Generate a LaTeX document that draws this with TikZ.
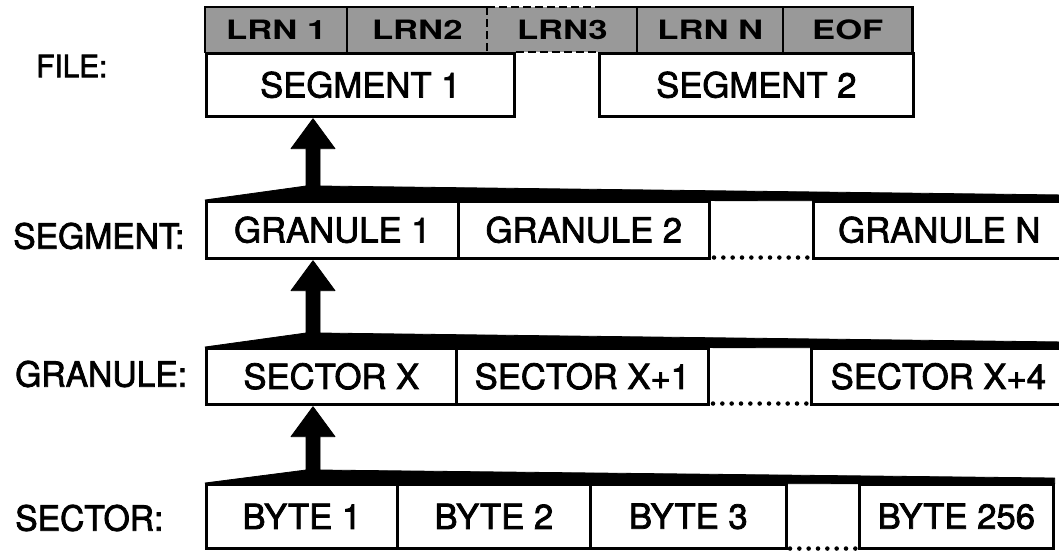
\documentclass[tikz,border=0pt]{standalone}
\usepackage{fontspec}
\setmainfont{TeX Gyre Heros}
\newfontfamily\lblfont[FakeStretch=0.97,FakeBold=2.2]{TeX Gyre Heros}
\newfontfamily\boxfont[FakeBold=2.2]{TeX Gyre Heros}
\newfontfamily\lrnfont[FakeStretch=1.3]{TeX Gyre Heros}
\usetikzlibrary{calc}
\begin{document}
\begin{tikzpicture}[x=0.75pt,y=-0.75pt]
\useasboundingbox (0,0) rectangle (1059,551);
\clip (0,0) rectangle (1059,551);
\tikzset{
  sz/.style args={#1 by #2}{minimum width=#1*0.75pt, minimum height=#2*0.75pt},
  cellbox/.style={draw, line width=2pt, inner sep=0pt, anchor=north west,
    font=\boxfont\fontsize{26}{26}\selectfont},
  gapbox/.style={inner sep=0pt, anchor=north west},
  lrncell/.style={fill=black!40, inner sep=0pt, anchor=north west,
    font=\lrnfont\bfseries\fontsize{20}{20}\selectfont},
  lbl/.style={anchor=west, inner sep=0pt, font=\lblfont\fontsize{26}{26}\selectfont},
  fan/.style={fill=black, draw=black, line width=0.6pt, line join=round},
  dotline/.style={line width=3.4pt, line cap=round, dash pattern=on 0pt off 7pt},
  edge/.style={line width=2pt},
  dashedge/.style={line width=2pt, dash pattern=on 6pt off 3pt},
}
% ---------- labels
\node[lbl] (Lfile) at (36,66) {\fontsize{23}{23}\selectfont FILE:};
\node[lbl] (Lseg) at (13,236) {SEGMENT:};
\node[lbl] (Lgran) at (15,374) {GRANULE:};
\node[lbl] (Lsec) at (15,518) {SECTOR:};

% ---------- FILE row
\node[lrncell, sz=142 by 45] (l1) at (205,7) {LRN 1};
\node[lrncell, sz=140 by 45] (l2) at (347,7) {LRN2};
\node[lrncell, sz=150 by 45] (l3) at (487,7) {LRN3};
\node[lrncell, sz=146 by 45] (ln) at (637,7) {LRN N};
\node[lrncell, sz=129 by 45] (eof) at (783,7) {EOF};
\node[cellbox, fill=white, sz=308 by 63] (s1) at (205,52) {SEGMENT 1};
\node[cellbox, fill=white, sz=314 by 63] (s2) at (598,52) {SEGMENT 2};
\draw[edge] (l1.south west) -- (l1.north west) -- (l2.north east);
\draw[dashedge] (l3.north west) -- (s2.north west |- l3.north);
\draw[edge] (s2.north west |- l3.north) -- (eof.north east) -- (eof.south east);
\draw[dashedge] (l3.north west) -- (l3.south west);
\draw[edge] (l2.north west) -- (l2.south west);
\draw[edge] (ln.north west) -- (ln.south west);
\draw[edge] (eof.north west) -- (eof.south west);
\draw[dashedge] (s1.north east) -- (s2.north west);

% ---------- SEGMENT row
\node[cellbox, sz=252 by 57] (g1) at (205,200) {GRANULE 1};
\node[cellbox, sz=251 by 57] (g2) at (457,200) {GRANULE 2};
\node[gapbox, sz=104 by 57] (gg) at (708,200) {};
\node[cellbox, sz=252 by 57] (gn) at (812,200) {GRANULE N};
\draw[dotline] ($(gg.south west)+(6,0)$) -- (gg.south east);

% ---------- GRANULE row
\node[cellbox, sz=250 by 56] (x1) at (205,347) {SECTOR X};
\node[cellbox, sz=252 by 56] (x2) at (455,347) {SECTOR X+1};
\node[gapbox, sz=103 by 56] (xg) at (707,347) {};
\node[cellbox, sz=254 by 56] (x4) at (810,347) {SECTOR X+4};
\draw[dotline] ($(xg.south west)+(6,0)$) -- (xg.south east);

% ---------- SECTOR row
\node[cellbox, sz=191 by 64] (b1) at (205,483) {BYTE 1};
\node[cellbox, sz=193 by 64] (b2) at (396,483) {BYTE 2};
\node[cellbox, sz=196 by 64] (b3) at (589,483) {BYTE 3};
\node[gapbox, sz=73 by 64] (bg) at (785,483) {};
\node[cellbox, sz=194 by 64] (b256) at (858,483) {BYTE 256};
\draw[dotline] ($(bg.south west)+(5,1)$) -- ($(bg.south east)+(0,1)$);

% ---------- fan arrows
\coordinate (t1) at ($(s1.south west)+(108,1)$);
\coordinate (t2) at ($(g1.south west)+(108,1)$);
\coordinate (t3) at ($(x1.south west)+(108,1)$);
\coordinate (e1) at ($(gn.north east)+(0,-5)$);
\coordinate (e2) at ($(x4.north east)+(0,-5)$);
\coordinate (e3) at ($(b256.north east)+(0,-5)$);

\fill[fan] (g1.north west) -- ($(g1.north west)+(101,-14)$) -- ($(t1)+(-7,30)$)
  -- ($(t1)+(-22,30)$) -- (t1) -- ($(t1)+(22,30)$) -- ($(t1)+(7,30)$)
  -- ($(g1.north west)+(115,-14)$) -- (e1) -- ($(e1)+(0,6)$) -- cycle;
\fill[fan] (x1.north west) -- ($(x1.north west)+(101,-14)$) -- ($(t2)+(-7,30)$)
  -- ($(t2)+(-22,30)$) -- (t2) -- ($(t2)+(22,30)$) -- ($(t2)+(7,30)$)
  -- ($(x1.north west)+(115,-14)$) -- (e2) -- ($(e2)+(0,6)$) -- cycle;
\fill[fan] (b1.north west) -- ($(b1.north west)+(101,-13)$) -- ($(t3)+(-7,30)$)
  -- ($(t3)+(-22,30)$) -- (t3) -- ($(t3)+(22,30)$) -- ($(t3)+(7,30)$)
  -- ($(b1.north west)+(115,-13)$) -- (e3) -- ($(e3)+(0,6)$) -- cycle;
\end{tikzpicture}
\end{document}
